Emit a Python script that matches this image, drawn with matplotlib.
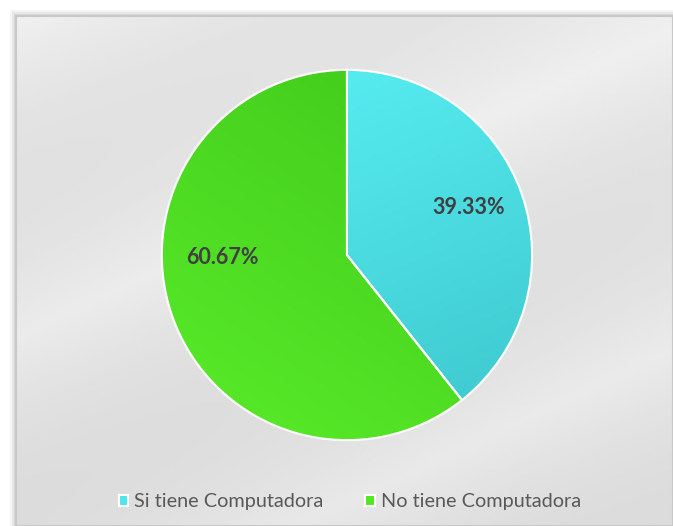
import numpy as np
import matplotlib.pyplot as plt
from matplotlib.patches import Rectangle

plt.rcParams['font.family'] = ['Lato', 'DejaVu Sans']

# data
labels = ['Si tiene Computadora', 'No tiene Computadora']
values = [39.33, 60.67]
colors = ['#4ee6ee', '#52e623']
shade_top = ['#5af2f6', '#3fc71a']
shade_bot = ['#3cc6cc', '#5aec2a']

fig = plt.figure(figsize=(6.73, 5.26), dpi=100)
fig.patch.set_facecolor('white')

# background panel with shadow
L, T = 16 / 673, 1 - 16 / 526
for i, a in enumerate([0.10, 0.14, 0.20]):
    off = (3 - i) * 2
    fig.patches.append(Rectangle((L - off / 673, -0.01), 1.1, T + off / 526 + 0.01,
                                 transform=fig.transFigure, facecolor='#9a9a9a',
                                 alpha=a, edgecolor='none', zorder=0))
bg = fig.add_axes([L, 0, 1 - L, T], zorder=1)
yy, xx = np.mgrid[0:1:200j, 0:1:200j]
tex = 0.94 - 0.05 * np.abs(np.sin(3.0 * xx + 5.0 * yy)) - 0.03 * yy
bg.imshow(tex, cmap='gray', vmin=0, vmax=1, aspect='auto', extent=[0, 1, 0, 1])
bg.set_axis_off()
fig.patches.append(Rectangle((L, 0), 1 - L, T, transform=fig.transFigure,
                             facecolor='none', edgecolor='#c8c8c8', lw=1.5, zorder=5))

ax = fig.add_axes([0.2377, 0.1597, 0.5557, 0.711], zorder=2)
wedges, _ = ax.pie(values, colors=colors, startangle=90, counterclock=False,
                   radius=1, wedgeprops=dict(edgecolor='white', linewidth=1.5))

# gradient fill clipped to each wedge
for k, w in enumerate(wedges):
    c1 = np.array(plt.matplotlib.colors.to_rgb(shade_top[k]))
    c2 = np.array(plt.matplotlib.colors.to_rgb(shade_bot[k]))
    gy, gx = np.mgrid[0:1:100j, 0:1:100j]
    if k == 0:
        t = np.clip(0.7 * gy + 0.3 * gx, 0, 1)
    else:
        t = np.clip(0.6 * gy + 0.4 * (1 - gx), 0, 1)
    img = c1[None, None, :] * (1 - t[..., None]) + c2[None, None, :] * t[..., None]
    im = ax.imshow(img, extent=[-1, 1, -1, 1], origin='upper', zorder=1)
    im.set_clip_path(w)
    w.set_facecolor('none')
    w.set_zorder(2)

label_pos = [(0.658, 0.257), (-0.674, -0.016)]
for v, (x, y) in zip(values, label_pos):
    ax.text(x, y, f'{v:.2f}%', ha='center', va='center', fontsize=15.5,
            fontweight='bold', color='#404040', zorder=3)

ax.set_xlim(-1.01, 1.01)
ax.set_ylim(-1.01, 1.01)
ax.set_aspect('equal')
ax.set_axis_off()

leg = fig.legend(wedges, labels, loc='center', bbox_to_anchor=(0.52, 0.046),
                 ncol=2, frameon=False, fontsize=14.3, handlelength=0.5, handleheight=0.5,
                 handletextpad=0.3, columnspacing=2.1, labelcolor='#595959')
for h, c in zip(leg.legend_handles, colors):
    h.set_facecolor(c)
    h.set_edgecolor('white')

fig.savefig('out.png', dpi=100)
